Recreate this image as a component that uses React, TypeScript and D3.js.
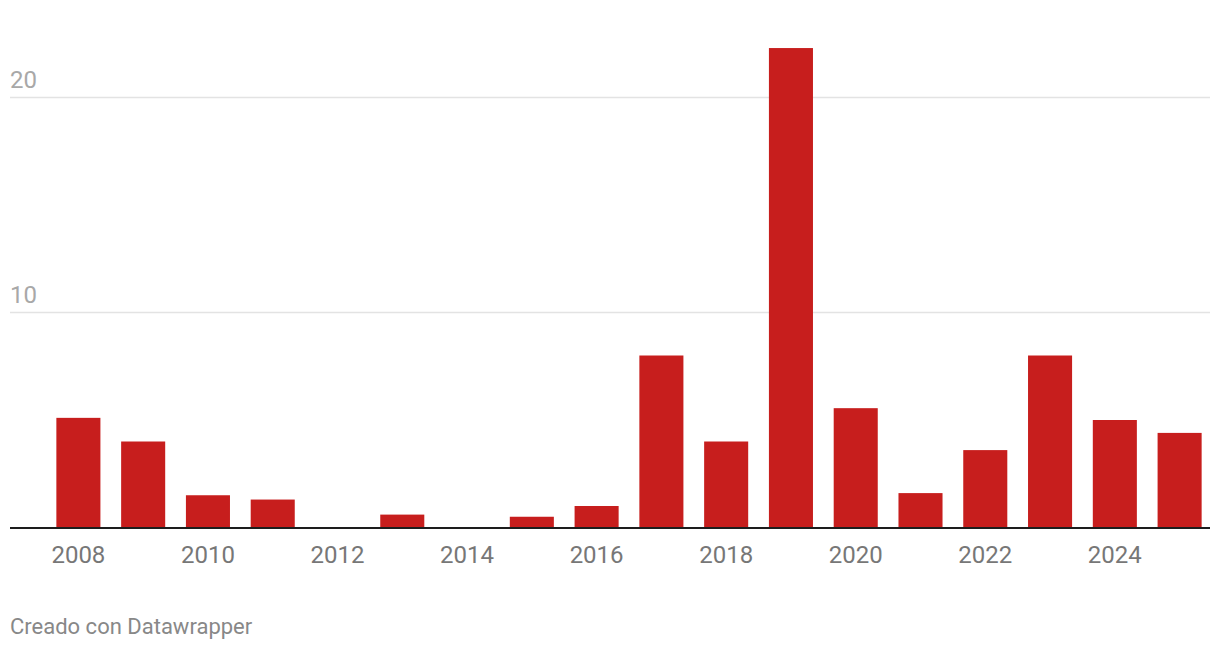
import React from "react";
import * as d3 from "d3";

const years = ["2008","2009","2010","2011","2012","2013","2014","2015","2016","2017","2018","2019","2020","2021","2022","2023","2024","2025"];
const values = [5.1, 4.0, 1.5, 1.3, 0, 0.6, 0, 0.5, 1.0, 8.0, 4.0, 22.3, 5.55, 1.6, 3.6, 8.0, 5.0, 4.4];
const yTicks = [10, 20];
const xTickLabels = ["2008","2010","2012","2014","2016","2018","2020","2022","2024"];
const footer = "Creado con Datawrapper";

const W = 1220, H = 650;
const FONT = "Roboto, 'Noto Sans', sans-serif";

export default function App() {
  const x = d3.scaleBand<string>().domain(years).range([46, 1212]).paddingInner(0.32).paddingOuter(0.16);
  const y = d3.scaleLinear().domain([0, 20]).range([527.5, 97.5]);
  const left = 10, right = 1210;
  return (
    <svg width={W} height={H} style={{ position: "absolute", left: 0, top: 0, background: "#fff" }} fontFamily={FONT}>
      {yTicks.map((t) => (
        <g key={t}>
          <line x1={left} x2={right} y1={y(t)} y2={y(t)} stroke="#e3e3e3" strokeWidth={1.5} />
          <text x={left} y={y(t) - 9.5} fontSize={24} fill="#a8a8a8">{t}</text>
        </g>
      ))}
      {years.map((yr, i) => (
        <rect key={yr} x={x(yr)} width={x.bandwidth()} y={y(values[i])} height={Math.max(0, y(0) - 0.5 - y(values[i]))} fill="#c71e1d" />
      ))}
      <line x1={left} x2={right} y1={y(0)+0.5} y2={y(0)+0.5} stroke="#1d1d1d" strokeWidth={2} />
      {xTickLabels.map((yr) => (
        <text key={yr} x={(x(yr) as number) + x.bandwidth() / 2} y={563} textAnchor="middle" fontSize={24} fill="#777">{yr}</text>
      ))}
      <text x={10} y={634} fontSize={22} fill="#888">{footer}</text>
    </svg>
  );
}
